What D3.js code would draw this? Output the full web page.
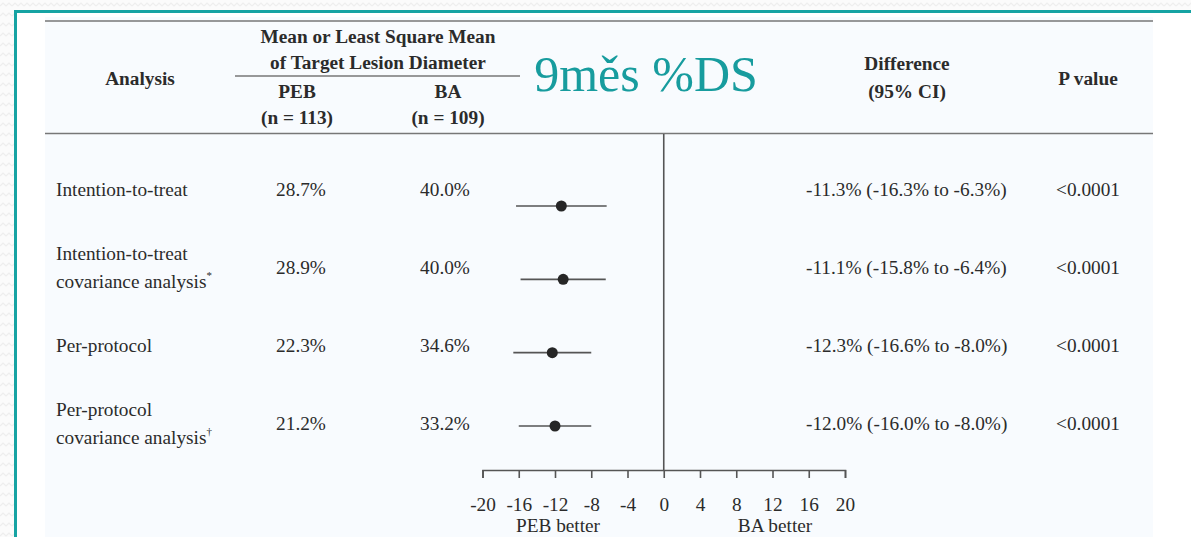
<!DOCTYPE html>
<html>
<head>
<meta charset="utf-8">
<script src="https://cdn.jsdelivr.net/npm/d3@7"></script>
<style>
  html, body { margin: 0; padding: 0; background: #ffffff; }
  svg { display: block; }
</style>
</head>
<body>
<svg id="chart" width="1191" height="537"></svg>
<script>
// Analyses shown as table rows
const analyses = [
  ["Intention-to-treat"],
  ["Intention-to-treat", "covariance analysis", "*"],
  ["Per-protocol"],
  ["Per-protocol", "covariance analysis", "\u2020"]
];
const pebValues = [28.7, 28.9, 22.3, 21.2];
const baValues = [40.0, 40.0, 34.6, 33.2];
const diffEstimate = [-11.3, -11.1, -12.3, -12.0];
const diffLower = [-16.3, -15.8, -16.6, -16.0];
const diffUpper = [-6.3, -6.4, -8.0, -8.0];
const pValues = ["<0.0001", "<0.0001", "<0.0001", "<0.0001"];
const axisTicks = [-20, -16, -12, -8, -4, 0, 4, 8, 12, 16, 20];

const svg = d3.select("#chart");
const W = 1191, H = 537;
const serif = "'Liberation Serif', 'Times New Roman', serif";
const ink = "#2b2b2b";
const bodySize = 19.3;
const headSize = 19.3;

// Faint patterned page background outside the frame
const defs = svg.append("defs");
const pat = defs.append("pattern").attr("id", "wave")
  .attr("width", 12).attr("height", 10).attr("patternUnits", "userSpaceOnUse");
pat.append("rect").attr("width", 12).attr("height", 10).attr("fill", "#fbfbfb");
pat.append("path").attr("d", "M0,6 L3,3 L6,6 L9,3 L12,6")
  .attr("fill", "none").attr("stroke", "#eeeeee").attr("stroke-width", 1.2);
svg.append("rect").attr("width", W).attr("height", H).attr("fill", "url(#wave)");

// Framed slide area
svg.append("rect").attr("x", 16).attr("y", 12).attr("width", W - 16).attr("height", H - 12)
  .attr("fill", "#ffffff");
svg.append("rect").attr("x", 45).attr("y", 17).attr("width", 1108).attr("height", H - 17)
  .attr("fill", "#f8fbfe");
svg.append("line").attr("x1", 15.5).attr("x2", 15.5).attr("y1", 10).attr("y2", H)
  .attr("stroke", "#16a3a3").attr("stroke-width", 3);
svg.append("line").attr("x1", 14).attr("x2", W).attr("y1", 11.5).attr("y2", 11.5)
  .attr("stroke", "#16a3a3").attr("stroke-width", 3);

// Table rules
const rule = (x1, x2, y) => svg.append("line").attr("x1", x1).attr("x2", x2)
  .attr("y1", y).attr("y2", y).attr("stroke", "#777").attr("stroke-width", 1.6);
rule(45, 1153, 21);
rule(45, 1153, 133.5);
rule(235, 520, 76);

// Header text
const header = (txt, x, y) => svg.append("text")
  .attr("x", x).attr("y", y + 2)
  .attr("text-anchor", "middle")
  .attr("dominant-baseline", "middle")
  .attr("font-family", serif)
  .attr("font-weight", "bold")
  .attr("font-size", headSize)
  .attr("fill", ink)
  .text(txt);
header("Analysis", 140, 79);
header("Mean or Least Square Mean", 378, 37);
header("of Target Lesion Diameter", 378, 63);
header("PEB", 297, 92);
header("(n = 113)", 297, 118);
header("BA", 448, 92);
header("(n = 109)", 448, 118);
header("Difference", 907, 64);
header("(95% CI)", 907, 92);
header("P value", 1088, 79);

svg.append("text")
  .attr("x", 646).attr("y", 80)
  .attr("text-anchor", "middle")
  .attr("dominant-baseline", "middle")
  .attr("font-family", "'Liberation Serif', 'DejaVu Serif', serif")
  .attr("font-size", 50)
  .attr("fill", "#179c9e")
  .text("9měs %DS");

// Scales
const x = d3.scaleLinear().domain([-20, 20]).range([482.5, 845]);
const rowIdx = d3.range(analyses.length);
const yMark = d3.scalePoint().domain(rowIdx).range([206, 426]);
const yText = d3.scalePoint().domain(rowIdx).range([192, 426]);

// Body rows
const bodyText = (txt, xPos, yPos, anchor) => svg.append("text")
  .attr("x", xPos).attr("y", yPos)
  .attr("text-anchor", anchor)
  .attr("dominant-baseline", "middle")
  .attr("font-family", serif)
  .attr("font-size", bodySize)
  .attr("fill", ink)
  .text(txt);

analyses.forEach((lab, i) => {
  const yc = yText(i);
  if (lab.length === 1) {
    bodyText(lab[0], 56, yc, "start");
  } else {
    bodyText(lab[0], 56, yc - 14, "start");
    const t = bodyText(lab[1], 56, yc + 14, "start");
    t.append("tspan").attr("dy", -8).attr("font-size", 11).text(lab[2]);
  }
  bodyText(pebValues[i].toFixed(1) + "%", 301, yc, "middle");
  bodyText(baValues[i].toFixed(1) + "%", 445, yc, "middle");
  bodyText(`${diffEstimate[i].toFixed(1)}% (${diffLower[i].toFixed(1)}% to ${diffUpper[i].toFixed(1)}%)`,
    806, yc, "start");
  bodyText(pValues[i], 1088, yc, "middle");
});

// Axis
const axisY = 470;
const axisG = svg.append("g").attr("transform", `translate(0,${axisY})`)
  .call(d3.axisBottom(x).tickValues(axisTicks).tickFormat(d3.format("d"))
    .tickSize(8).tickPadding(19));
axisG.select(".domain").attr("stroke", "#555").attr("stroke-width", 1.6);
axisG.selectAll(".tick line").attr("stroke", "#555").attr("stroke-width", 1.6);
axisG.selectAll(".tick text").attr("font-family", serif).attr("font-size", bodySize)
  .attr("fill", ink).text(d => d < 0 ? "-" + Math.abs(d) : d);

// Line of no difference
svg.append("line").attr("x1", x(0)).attr("x2", x(0)).attr("y1", 134).attr("y2", axisY)
  .attr("stroke", "#555").attr("stroke-width", 1.6);

// Confidence intervals and point estimates
svg.append("g").selectAll("line").data(rowIdx).join("line")
  .attr("x1", i => x(diffLower[i])).attr("x2", i => x(diffUpper[i]))
  .attr("y1", i => yMark(i)).attr("y2", i => yMark(i))
  .attr("stroke", "#555").attr("stroke-width", 1.6);
svg.append("g").selectAll("circle").data(rowIdx).join("circle")
  .attr("cx", i => x(diffEstimate[i])).attr("cy", i => yMark(i))
  .attr("r", 5.5).attr("fill", "#262626");

// Direction labels
bodyText("PEB better", 558, 528, "middle");
bodyText("BA better", 775, 528, "middle");
</script>
</body>
</html>
